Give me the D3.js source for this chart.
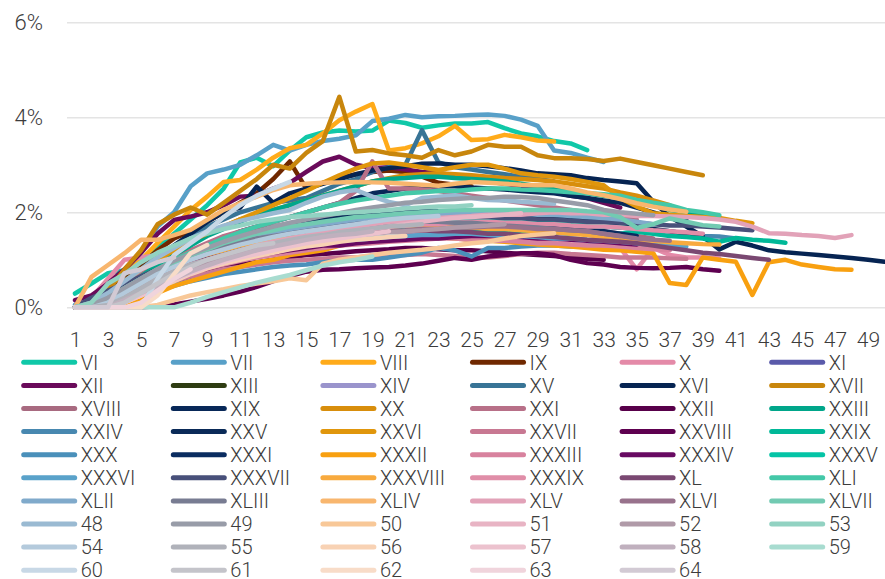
<!DOCTYPE html>
<html>
<head>
<meta charset="utf-8">
<script src="https://cdn.jsdelivr.net/npm/d3@7"></script>
<style>
  body { margin: 0; background: #fff; }
  svg text { font-family: Roboto, "Noto Sans", sans-serif; font-weight: 300; fill: #3c3c3c; }
</style>
</head>
<body>
<svg id="chart" width="885" height="579"></svg>
<script>
// legend labels, in legend order (row by row)
const labels = ["VI","VII","VIII","IX","X","XI","XII","XIII","XIV","XV","XVI","XVII",
  "XVIII","XIX","XX","XXI","XXII","XXIII","XXIV","XXV","XXVI","XXVII","XXVIII","XXIX",
  "XXX","XXXI","XXXII","XXXIII","XXXIV","XXXV","XXXVI","XXXVII","XXXVIII","XXXIX","XL","XLI",
  "XLII","XLIII","XLIV","XLV","XLVI","XLVII","48","49","50","51","52","53",
  "54","55","56","57","58","59","60","61","62","63","64"];

const colors = ["#10c8a8","#58a0c8","#ffab1a","#702800","#e48aa8","#5a5aaa",
  "#6a0a5a","#2e3c12","#9a94cc","#387496","#062452","#c8860c",
  "#a86a80","#082858","#d88e0c","#b87088","#58004a","#00a68a",
  "#4888b0","#0a2a58","#e0960c","#c87892","#5e0050","#00b898",
  "#4a90ba","#0a2c60","#f8a010","#d8829e","#680a62","#04c4a6",
  "#5aa2ca","#48507a","#f8aa3e","#e08ea8","#7a4872","#44c8a8",
  "#80aacb","#787c92","#f8b66e","#e2a2b8","#98728c","#72cab2",
  "#9abad2","#989ca8","#f8c898","#e8b4c4","#b09aa8","#92d2c2",
  "#b4cadc","#b0b2ba","#f8d2b4","#ecc2ce","#c0b0be","#a8dcd0",
  "#c8d8e6","#c4c4ca","#f8dcc8","#f0d4dc","#d2cad4"];

// x axis tick labels
const xTicks = [1,3,5,7,9,11,13,15,17,19,21,23,25,27,29,31,33,35,37,39,41,43,45,47,49];
const yTicks = [0,2,4,6];

// values in %, one per period starting at period 1
const d_VI = [0.29,0.5,0.72,0.78,0.95,1.25,1.55,1.85,2.15,2.5,3.05,3.15,2.97,3.3,3.58,3.68,3.72,3.7,3.72,3.93,3.88,3.78,3.83,3.87,3.87,3.9,3.77,3.66,3.6,3.5,3.45,3.31];
const d_VII = [0.05,0.2,0.45,0.8,1.15,1.7,2.0,2.55,2.82,2.9,3.0,3.2,3.42,3.3,3.42,3.5,3.55,3.62,3.92,3.97,4.05,4.0,4.02,4.03,4.05,4.06,4.03,3.95,3.82,3.3,3.25,3.15,3.06];
const d_VIII = [0,0.15,0.4,0.7,1.0,1.35,1.7,2.05,2.33,2.64,2.68,2.9,3.15,3.35,3.42,3.66,3.94,4.12,4.28,3.3,3.35,3.45,3.6,3.82,3.52,3.54,3.63,3.58,3.51,3.49];
const d_IX = [0,0.1,0.3,0.6,0.9,1.2,1.45,1.6,1.8,2.0,2.2,2.4,2.7,3.07,2.5,2.62,2.72,2.8,2.85,2.88,2.85,2.75,2.62,2.58,2.55];
const d_X = [0,0.2,0.6,1.0,1.05,1.1,1.15,1.2,1.25,1.3,1.35,1.4,1.42,1.45,1.5,1.52,1.55,1.6,1.62,1.65,1.6,1.58,1.55,1.5,1.48,1.45,1.42,1.4,1.38,1.35,1.32,1.3,1.28,1.25,0.8,1.25,1.1,1.05,1.05,1.03];
const d_XI = [0,0.05,0.2,0.4,0.6,0.75,0.9,1.05,1.15,1.25,1.35,1.45,1.5,1.55,1.6,1.68,1.72,1.75,1.8,1.82,1.85,1.85,1.82,1.8,1.78,1.75,1.72,1.7,1.68,1.65,1.6,1.58,1.55,1.5,1.45];
const d_XII = [0.15,0.25,0.5,0.8,1.15,1.55,1.84,1.91,2.0,2.15,2.33,2.35,2.5,2.62,2.85,3.07,3.17,3.0,2.93,2.95,2.9,2.85,2.82,2.78,2.72,2.65,2.6,2.55,2.5,2.42,2.35,2.3,2.2,2.1];
const d_XIII = [0,0.1,0.25,0.45,0.65,0.85,1.0,1.15,1.3,1.4,1.5,1.6,1.7,1.75,1.8,1.85,1.9,1.95,2.0,2.0,2.02,2.0,1.98,1.95,1.92,1.9,1.88,1.85];
const d_XIV = [0,0.05,0.15,0.3,0.5,0.7,0.85,1.0,1.1,1.2,1.3,1.4,1.45,1.5,1.55,1.6,1.65,1.7,1.72,1.75,1.78,1.8,1.78,1.75,1.72,1.7,1.68,1.65,1.62,1.6];
const d_XV = [0,0.1,0.3,0.55,0.8,1.05,1.3,1.5,1.7,1.85,2.0,2.1,2.2,2.25,2.3,2.45,2.6,2.7,2.85,2.95,3.0,3.73,3.05,2.95,2.9,2.85,2.8,2.75,2.7,2.65];
const d_XVI = [0,0.05,0.2,0.45,0.7,1.0,1.3,1.55,1.8,2.0,2.1,2.54,2.2,2.4,2.5,2.6,2.7,2.8,2.88,2.93,2.97,3.02,3.03,3.0,3.0,2.97,2.93,2.88,2.82,2.8,2.78,2.72,2.68,2.65,2.61,2.22,1.91,1.7,1.49,1.22,1.38,1.3,1.2,1.16,1.13,1.1,1.07,1.04,1.0,0.96];
const d_XVII = [0,0.1,0.35,0.8,1.2,1.75,1.95,2.1,1.95,2.2,2.45,2.7,3.0,2.92,3.25,3.5,4.43,3.28,3.31,3.24,3.2,3.15,3.31,3.2,3.28,3.42,3.38,3.38,3.2,3.14,3.14,3.12,3.08,3.13,3.06,2.99,2.92,2.85,2.78];
const d_XVIII = [0,0.1,0.3,0.5,0.7,0.9,1.05,1.2,1.3,1.4,1.5,1.6,1.65,1.7,1.75,1.8,1.85,1.9,1.95,1.95,1.92,1.9,1.9,1.88,1.85,1.82,1.8,1.78,1.75,1.72,1.7,1.65,1.6,1.55,1.5,1.45];
const d_XIX = [0,0.05,0.2,0.4,0.6,0.8,1.0,1.15,1.3,1.45,1.6,1.7,1.8,1.9,2.0,2.1,2.2,2.3,2.4,2.45,2.5,2.52,2.55,2.55,2.52,2.5,2.48,2.45,2.42,2.4,2.35,2.3,2.25,2.2,2.1,2.0,1.9,1.85];
const d_XX = [0,0.1,0.25,0.5,0.75,1.0,1.2,1.4,1.55,1.7,1.85,1.95,2.05,2.15,2.25,2.35,2.45,2.55,2.65,2.72,2.78,2.8,2.82,2.8,2.78,2.75,2.72,2.7,2.68,2.65,2.6,2.55,2.5,2.42,2.35,2.25,2.15];
const d_XXI = [0,0.1,0.3,0.5,0.7,0.9,1.05,1.2,1.35,1.5,1.6,1.7,1.8,1.9,2.0,2.1,2.2,2.45,3.07,2.5,2.5,2.48,2.45,2.4,2.35,2.3,2.25,2.2,2.15,2.1,2.05,2.0,1.95,1.9,1.85];
const d_XXII = [0,0,0.05,0.15,0.3,0.45,0.55,0.65,0.75,0.82,0.9,0.95,1.0,1.05,1.1,1.12,1.15,1.18,1.2,1.22,1.25,1.25,1.22,1.2,1.2,1.18,1.15,1.12,1.1,1.08,1.05,1.02,1.0];
const d_XXIII = [0,0.05,0.2,0.4,0.65,0.9,1.1,1.3,1.5,1.65,1.8,1.95,2.05,2.15,2.25,2.35,2.45,2.55,2.65,2.7,2.72,2.75,2.75,2.72,2.7,2.68,2.65,2.6,2.55,2.5,2.45,2.4,2.35,2.3,2.25,2.15,2.05,2.0,1.95,1.9];
const d_XXIV = [0,0.05,0.15,0.35,0.55,0.75,0.9,1.05,1.2,1.3,1.4,1.5,1.6,1.65,1.7,1.75,1.8,1.85,1.9,1.92,1.95,1.95,1.92,1.9,1.88,1.85,1.85,1.82,1.8,1.78,1.75,1.72,1.7,1.68,1.65,1.62,1.6,1.55,1.5,1.49,1.45];
const d_XXV = [0,0.05,0.15,0.35,0.55,0.75,0.95,1.1,1.25,1.35,1.45,1.55,1.65,1.72,1.8,1.85,1.9,1.95,2.0,2.02,2.05,2.05,2.02,2.0,1.98,1.95,1.95,1.92,1.9,1.88,1.85,1.82,1.8,1.75,1.7,1.65,1.6,1.55,1.5];
const d_XXVI = [0,0.1,0.3,0.55,0.8,1.0,1.2,1.4,1.55,1.7,1.85,2.0,2.15,2.3,2.45,2.62,2.78,2.92,3.03,3.05,3.0,2.95,2.89,2.95,3.0,3.0,2.92,2.82,2.78,2.75,2.7,2.64,2.57,2.3,2.12,1.98,1.95,1.92,1.9,1.88,1.82,1.77];
const d_XXVII = [0,0,0.05,0.15,0.3,0.45,0.55,0.65,0.72,0.8,0.85,0.9,0.95,0.98,1.0,1.02,1.05,1.05,1.08,1.1,1.1,1.12,1.1,1.08,1.05,1.05,1.08,1.12,1.15,1.15,1.12,1.1,1.08,1.05,1.05,1.05,1.03,1.02];
const d_XXVIII = [0,0,0,0,0,0.02,0.06,0.12,0.18,0.25,0.33,0.43,0.55,0.66,0.75,0.79,0.8,0.82,0.84,0.85,0.88,0.92,0.98,1.04,1.0,1.07,1.1,1.14,1.14,1.1,1.0,0.93,0.9,0.85,0.83,0.82,0.83,0.85,0.8,0.77];
const d_XXIX = [0,0.05,0.15,0.3,0.45,0.6,0.75,0.85,0.95,1.05,1.12,1.2,1.28,1.35,1.4,1.45,1.5,1.55,1.58,1.6,1.62,1.65,1.65,1.65,1.62,1.62,1.6,1.6,1.58,1.58,1.55,1.55,1.55,1.55,1.59,1.55,1.5,1.48,1.45,1.38,1.46,1.42,1.4,1.36];
const d_XXX = [0,0,0.05,0.15,0.25,0.35,0.45,0.55,0.62,0.7,0.75,0.8,0.85,0.88,0.9,0.95,0.98,1.0,1.0,1.05,1.1,1.15,1.25,1.2,1.07,1.25,1.25,1.28,1.3,1.3,1.28,1.3,1.32,1.35,1.3,1.28];
const d_XXXI = [0,0.05,0.2,0.4,0.6,0.8,0.95,1.05,1.15,1.2,1.3,1.38,1.45,1.5,1.55,1.6,1.65,1.7,1.72,1.75,1.78,1.8,1.8,1.78,1.78,1.75,1.72,1.7,1.7,1.68,1.65,1.62,1.6,1.55,1.5];
const d_XXXII = [0,0,0,0.05,0.15,0.3,0.45,0.55,0.65,0.75,0.85,0.95,1.0,1.1,1.15,1.2,1.3,1.35,1.4,1.42,1.45,1.5,1.48,1.45,1.42,1.4,1.38,1.35,1.32,1.3,1.28,1.25,1.21,1.2,1.17,1.14,0.51,0.47,1.05,1.0,0.96,0.26,0.95,1.0,0.9,0.85,0.8,0.79];
const d_XXXIII = [0,0,0.05,0.15,0.3,0.45,0.6,0.72,0.82,0.9,0.98,1.05,1.1,1.15,1.2,1.25,1.3,1.32,1.35,1.38,1.4,1.42,1.45,1.45,1.42,1.4,1.4,1.38,1.35,1.35,1.32,1.3,1.3,1.28,1.25,1.22,1.2];
const d_XXXIV = [0,0.05,0.15,0.3,0.45,0.6,0.7,0.8,0.9,0.98,1.05,1.1,1.15,1.2,1.25,1.3,1.3,1.35,1.38,1.4,1.42,1.45,1.45,1.48,1.5,1.5,1.5,1.48,1.45,1.45,1.42,1.4,1.38,1.35,1.32];
const d_XXXV = [0,0.02,0.1,0.25,0.4,0.55,0.7,0.85,1.0,1.1,1.2,1.3,1.38,1.45,1.52,1.6,1.65,1.7,1.75,1.78,1.8,1.82,1.85,1.85,1.85,1.82,1.8,1.78,1.8,1.78,1.75,1.72,1.7,1.68,1.65,1.6];
const d_XXXVI = [0,0.02,0.1,0.2,0.35,0.5,0.65,0.8,0.9,1.0,1.08,1.15,1.2,1.25,1.3,1.35,1.4,1.42,1.45,1.48,1.5,1.52,1.52,1.55,1.55,1.52,1.5,1.5,1.48,1.45,1.45,1.42,1.4,1.38,1.35,1.32,1.3,1.28];
const d_XXXVII = [0,0.2,0.35,0.5,0.65,0.8,0.95,1.1,1.2,1.3,1.4,1.48,1.55,1.62,1.68,1.72,1.75,1.8,1.82,1.85,1.88,1.9,1.92,1.92,1.9,1.9,1.88,1.88,1.85,1.85,1.82,1.8,1.8,1.78,1.78,1.75,1.72,1.72,1.7,1.68,1.65,1.62];
const d_XXXVIII = [0,0.05,0.15,0.3,0.5,0.7,0.85,1.0,1.1,1.2,1.3,1.38,1.45,1.5,1.55,1.6,1.62,1.65,1.68,1.7,1.72,1.72,1.7,1.7,1.68,1.65,1.65,1.62,1.6,1.58,1.55,1.52,1.48,1.45,1.42,1.4,1.37,1.35,1.33,1.32];
const d_XXXIX = [0,0,0.05,0.15,0.3,0.45,0.6,0.75,0.88,1.0,1.1,1.2,1.28,1.35,1.42,1.5,1.55,1.6,1.65,1.7,1.72,1.75,1.75,1.78,1.8,1.8,1.78,1.78,1.75,1.75,1.72,1.7,1.7,1.68,1.65,1.62,1.6,1.58,1.55];
const d_XL = [0,0.05,0.2,0.35,0.5,0.65,0.8,0.92,1.02,1.1,1.2,1.28,1.35,1.4,1.45,1.5,1.52,1.55,1.58,1.6,1.6,1.62,1.6,1.6,1.58,1.55,1.55,1.52,1.5,1.48,1.45,1.42,1.4,1.38,1.35,1.3,1.25,1.2,1.15,1.12,1.08,1.04,1.0];
const d_XLI = [0,0.05,0.2,0.4,0.6,0.8,1.0,1.15,1.3,1.45,1.58,1.7,1.8,1.9,2.0,2.1,2.18,2.25,2.3,2.35,2.4,2.42,2.45,2.45,2.48,2.5,2.5,2.48,2.47,2.45,2.42,2.4,2.38,2.35,2.26,2.2,2.15,2.05,2.0,1.94];
const d_XLII = [0,0.05,0.2,0.4,0.6,0.8,0.95,1.1,1.22,1.32,1.42,1.5,1.58,1.65,1.7,1.75,1.8,1.85,1.88,1.9,1.92,1.95,1.95,1.98,2.0,2.0,1.98,1.98,1.95,1.95,1.92,1.9,1.88,1.85,1.8,1.75];
const d_XLIII = [0,0.05,0.2,0.4,0.6,0.8,0.95,1.1,1.2,1.3,1.38,1.45,1.5,1.55,1.6,1.65,1.68,1.7,1.72,1.75,1.78,1.8,1.8,1.78,1.78,1.75,1.72,1.7,1.68,1.65,1.62,1.6,1.55,1.5];
const d_XLIV = [0,0.64,0.89,1.14,1.42,1.42,1.52,1.63,1.84,2.05,2.19,2.33,2.47,2.57,2.6,2.62,2.63,2.64,2.63,2.62,2.6,2.58,2.56,2.6,2.64,2.62,2.6,2.58,2.57,2.57,2.5,2.42,2.36,2.28,2.19,2.12,2.06,2.01];
const d_XLV = [0,0.05,0.15,0.3,0.45,0.6,0.75,0.9,1.0,1.1,1.2,1.3,1.38,1.45,1.52,1.6,1.65,1.7,1.75,1.8,1.82,1.85,1.88,1.9,1.92,1.95,1.95,1.95,1.98,2.0,1.98,1.98,1.95,1.95,1.92,1.92,1.91,1.9,1.88,1.85,1.8,1.7,1.56,1.55,1.52,1.5,1.46,1.52];
const d_XLVI = [0,0.05,0.15,0.3,0.45,0.6,0.72,0.85,0.95,1.05,1.12,1.2,1.28,1.35,1.4,1.45,1.5,1.55,1.58,1.6,1.62,1.65,1.65,1.68,1.68,1.7,1.7,1.68,1.65,1.65,1.62,1.6,1.55,1.5,1.45,1.42,1.4];
const d_XLVII = [0,0.05,0.2,0.4,0.6,0.8,0.95,1.1,1.22,1.35,1.45,1.55,1.62,1.7,1.75,1.8,1.85,1.9,1.92,1.95,1.98,2.0,2.02,2.05,2.05,2.05,2.05,2.05,2.05,2.05,2.05,2.02,2.0,1.9,1.67,1.75,1.87,1.8,1.73,1.7];
const d_48 = [0,0.1,0.3,0.55,0.8,1.05,1.25,1.45,1.6,1.72,1.82,1.9,1.98,2.05,2.2,2.33,2.42,2.47,2.33,2.22,2.15,2.3,2.33,2.36,2.3,2.26,2.25,2.22,2.2,2.18];
const d_49 = [0,0.05,0.2,0.4,0.6,0.8,0.98,1.12,1.25,1.38,1.5,1.6,1.7,1.78,1.85,1.92,1.98,2.05,2.1,2.15,2.2,2.22,2.26,2.28,2.3,2.3,2.33,2.32,2.3,2.25,2.2,2.15,2.05,2.0,1.97,1.94];
const d_50 = [0,0,0,0,0,0.05,0.15,0.25,0.32,0.38,0.45,0.5,0.55,0.61,0.57,0.92,1.0,1.05,1.1,1.15,1.18,1.21,1.25,1.3,1.35,1.38,1.45,1.5,1.53,1.56];
const d_51 = [0,0,0.05,0.15,0.3,0.45,0.6,0.75,0.9,1.0,1.1,1.18,1.25,1.32,1.4,1.48,1.55,1.6,1.65,1.7,1.75,1.8,1.85,1.88,1.9,1.92,1.95,1.98];
const d_52 = [0,0,0.05,0.2,0.35,0.5,0.65,0.8,0.92,1.02,1.1,1.18,1.25,1.3,1.35,1.4,1.45,1.5,1.55,1.58,1.6,1.62,1.65,1.68,1.7,1.72,1.75];
const d_53 = [0,0.1,0.5,0.7,0.95,1.15,1.3,1.45,1.55,1.65,1.72,1.8,1.85,1.9,1.92,1.95,1.98,2.0,2.02,2.05,2.08,2.1,2.12,2.12,2.15];
const d_54 = [0,0,0.1,0.3,0.5,0.7,0.85,1.0,1.12,1.22,1.32,1.4,1.48,1.55,1.6,1.65,1.7,1.75,1.8,1.85,1.88,1.9,1.92];
const d_55 = [0,0,0.05,0.2,0.4,0.6,0.75,0.9,1.0,1.1,1.2,1.28,1.35,1.42,1.48,1.52,1.58,1.62,1.66,1.7,1.72,1.75];
const d_56 = [0,0,0,0.1,0.25,0.4,0.55,0.7,0.82,0.92,1.0,1.08,1.15,1.22,1.28,1.32,1.38,1.42,1.45,1.48,1.5];
const d_57 = [0,0,0,0.1,0.25,0.42,0.58,0.72,0.85,0.95,1.05,1.12,1.2,1.28,1.35,1.4,1.45,1.5,1.55,1.6];
const d_58 = [0,0,0,0.15,0.3,0.45,0.6,0.75,0.88,1.0,1.1,1.2,1.28,1.35,1.42,1.48,1.52,1.55,1.6];
const d_59 = [0,0,0,0,0,0,0,0.1,0.22,0.32,0.42,0.52,0.6,0.68,0.78,0.88,0.95,1.0,1.07];
const d_60 = [0,0,0,0,0,0.6,1.1,1.35,1.6,1.9,2.15,2.35,2.5,2.64];
const d_61 = [0,0,0,0.1,0.3,0.5,0.7,0.85,1.0,1.1,1.2,1.3,1.35];
const d_62 = [0,0,0,0,0,0.25,0.7,1.14,1.31];
const d_63 = [0,0,0,0,0.1,0.35,0.6,0.8];
const d_64 = [0,0,0,0.72,0.8,0.95,1.05];

const seriesValues = [d_VI,d_VII,d_VIII,d_IX,d_X,d_XI,d_XII,d_XIII,d_XIV,d_XV,d_XVI,d_XVII,
  d_XVIII,d_XIX,d_XX,d_XXI,d_XXII,d_XXIII,d_XXIV,d_XXV,d_XXVI,d_XXVII,d_XXVIII,d_XXIX,
  d_XXX,d_XXXI,d_XXXII,d_XXXIII,d_XXXIV,d_XXXV,d_XXXVI,d_XXXVII,d_XXXVIII,d_XXXIX,d_XL,d_XLI,
  d_XLII,d_XLIII,d_XLIV,d_XLV,d_XLVI,d_XLVII,d_48,d_49,d_50,d_51,d_52,d_53,
  d_54,d_55,d_56,d_57,d_58,d_59,d_60,d_61,d_62,d_63,d_64];

const svg = d3.select("#chart");
const W = 885;

const x = d3.scaleLinear().domain([1, 49]).range([75, 868]);
const y = d3.scaleLinear().domain([0, 6]).range([307.3, 22.3]);

// gridlines
svg.append("g")
  .attr("transform", "translate(67,0)")
  .call(d3.axisLeft(y).tickValues(yTicks).tickSize(-(W - 67)).tickFormat(""))
  .call(g => g.select(".domain").remove())
  .call(g => g.selectAll("line").attr("stroke", "#e4e4e4").attr("stroke-width", 1.6));

// y labels
svg.append("g")
  .attr("transform", "translate(67,0)")
  .call(d3.axisLeft(y).tickValues(yTicks).tickSize(0).tickPadding(24).tickFormat(d => d + "%"))
  .call(g => g.select(".domain").remove())
  .call(g => g.selectAll("text").attr("font-size", 22).attr("font-family", null).attr("fill", null));

// x labels
svg.append("g")
  .attr("transform", "translate(0,307.3)")
  .call(d3.axisBottom(x).tickValues(xTicks).tickSize(0).tickPadding(25).tickFormat(d3.format("d")))
  .call(g => g.select(".domain").remove())
  .call(g => g.selectAll("text").attr("font-size", 21).attr("font-family", null).attr("fill", null));

svg.append("clipPath").attr("id", "plotclip")
  .append("rect").attr("x", 0).attr("y", 0).attr("width", W).attr("height", 320);

const line = d3.line()
  .x((d, i) => x(i + 1))
  .y(d => y(d));

svg.append("g").attr("clip-path", "url(#plotclip)")
  .selectAll("path")
  .data(seriesValues)
  .join("path")
  .attr("d", line)
  .attr("fill", "none")
  .attr("stroke", (d, i) => colors[i])
  .attr("stroke-width", 4.5)
  .attr("stroke-linejoin", "round")
  .attr("stroke-linecap", "round");

// legend, 6 columns
const legend = svg.append("g")
  .selectAll("g")
  .data(labels)
  .join("g")
  .attr("transform", (d, i) => `translate(${21.7 + (i % 6) * 149.6},${362.3 + Math.floor(i / 6) * 23.1})`);

legend.append("line")
  .attr("x1", 2).attr("x2", 53)
  .attr("stroke", (d, i) => colors[i])
  .attr("stroke-width", 5)
  .attr("stroke-linecap", "round");

legend.append("text")
  .attr("x", 59)
  .attr("dy", "0.36em")
  .attr("font-size", 20)
  .text(d => d);
</script>
</body>
</html>
